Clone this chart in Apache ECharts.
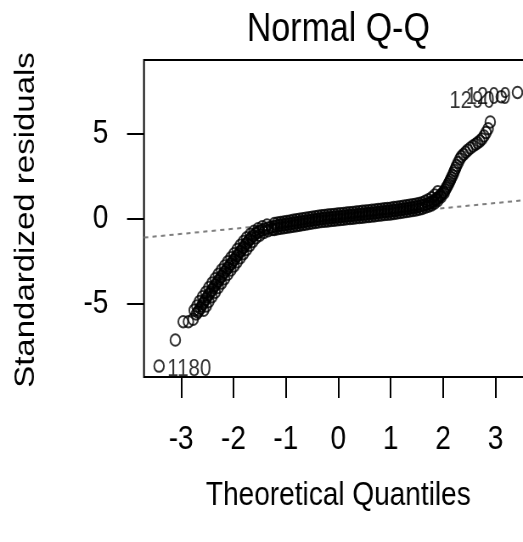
<!DOCTYPE html>
<html>
<head>
<meta charset="utf-8">
<script src="https://cdn.jsdelivr.net/npm/echarts@6/dist/echarts.min.js"></script>
<style>
  html, body { margin: 0; padding: 0; background: #fff; overflow: hidden; }
  /* the plot is laid out on a wider canvas and squeezed horizontally;
     the right side of the frame runs past the window edge */
  #chart { width: 640px; height: 542px; transform: scaleX(0.849); transform-origin: 0 0; }
</style>
</head>
<body>
<div id="chart"></div>
<script>
// Normal Q-Q plot of standardized residuals
const qx = [
  -3.42, -3.11, -2.96, -2.86, -2.77,
  -2.71, -2.68, -2.66, -2.63, -2.61, -2.58, -2.56, -2.53, -2.50, -2.47,
  -2.44, -2.41, -2.38, -2.35, -2.32, -2.29, -2.26, -2.23, -2.20, -2.17,
  -2.14, -2.11, -2.08, -2.05, -2.02, -1.99, -1.96, -1.93, -1.90, -1.87,
  -1.84, -1.81, -1.78, -1.75, -1.72, -1.69, -1.66, -1.62, -1.58, -1.54,
  -1.50, -1.45, -1.40, -1.34, -1.28, -1.22, -1.16, -1.10, -1.04, -0.98,
  -0.92, -0.86, -0.80, -0.74, -0.68, -0.62, -0.56, -0.50, -0.44, -0.38,
  -0.32, -0.26, -0.20, -0.14, -0.08, -0.02, 0.04, 0.10, 0.16, 0.22,
  0.28, 0.34, 0.40, 0.46, 0.52, 0.58, 0.64, 0.70, 0.76, 0.82,
  0.88, 0.94, 1.00, 1.06, 1.12, 1.18, 1.24, 1.30, 1.36, 1.42,
  1.48, 1.54, 1.60, 1.65, 1.70, 1.74, 1.78, 1.82, 1.86, 1.89,
  1.92, 1.95, 1.98, 2.01, 2.04, 2.06, 2.08, 2.10, 2.12, 2.14,
  2.16, 2.18, 2.20, 2.22, 2.24, 2.26, 2.29, 2.32, 2.35, 2.39,
  2.43, 2.47, 2.52, 2.57, 2.62, 2.66, 2.70, 2.74, 2.78, 2.82,
  2.86, 2.90, 3.11, 3.42
];
const residuals = [
  -8.68, -7.15, -6.07, -6.07, -5.93,
  -5.62, -5.50, -5.40, -5.28, -5.15, -5.00, -4.88, -4.75, -4.60, -4.47,
  -4.34, -4.21, -4.06, -3.92, -3.80, -3.67, -3.54, -3.41, -3.28, -3.15,
  -3.03, -2.91, -2.79, -2.67, -2.55, -2.43, -2.31, -2.19, -2.07, -1.94,
  -1.82, -1.70, -1.58, -1.46, -1.35, -1.24, -1.13, -1.01, -0.90, -0.82,
  -0.75, -0.68, -0.62, -0.56, -0.51, -0.47, -0.43, -0.40, -0.37, -0.34,
  -0.31, -0.28, -0.25, -0.22, -0.19, -0.16, -0.13, -0.10, -0.07, -0.04,
  -0.01, 0.01, 0.03, 0.05, 0.07, 0.09, 0.11, 0.13, 0.15, 0.17,
  0.19, 0.21, 0.23, 0.25, 0.27, 0.29, 0.31, 0.33, 0.36, 0.38,
  0.40, 0.42, 0.44, 0.47, 0.49, 0.52, 0.55, 0.58, 0.61, 0.64,
  0.67, 0.71, 0.76, 0.80, 0.85, 0.90, 0.96, 1.03, 1.11, 1.19,
  1.27, 1.36, 1.46, 1.57, 1.68, 1.80, 1.90, 2.02, 2.14, 2.27,
  2.40, 2.53, 2.67, 2.82, 2.97, 3.12, 3.30, 3.50, 3.64, 3.77,
  3.90, 4.02, 4.14, 4.26, 4.36, 4.45, 4.55, 4.68, 4.85, 5.05,
  5.28, 5.68, 7.16, 7.41
];

// further points of the dense band, left/upper and right/lower flank
const flankAX = [
  -2.75, -2.70, -2.65, -2.59, -2.53, -2.47, -2.41, -2.35, -2.29, -2.23,
  -2.17, -2.11, -2.05, -1.99, -1.93, -1.87, -1.81, -1.75, -1.68, -1.61,
  -1.53, -1.45, -1.36,
  -1.22, -1.16, -1.10, -1.04, -0.98, -0.92, -0.86, -0.80, -0.74, -0.68,
  -0.62, -0.56, -0.50, -0.44, -0.38, -0.32, -0.26, -0.20, -0.14, -0.08,
  -0.02, 0.04, 0.10, 0.16, 0.22, 0.28, 0.34, 0.40, 0.46, 0.52,
  0.58, 0.64, 0.70, 0.76, 0.82, 0.88, 0.94, 1.00, 1.06, 1.12,
  1.18, 1.24, 1.30, 1.36, 1.42, 1.48, 1.54, 1.60, 1.66, 1.72,
  1.78, 1.84, 1.90
];
const flankAY = [
  -5.40, -5.15, -4.88, -4.60, -4.34, -4.06, -3.80, -3.54, -3.28, -3.03,
  -2.79, -2.55, -2.31, -2.07, -1.82, -1.58, -1.35, -1.13, -0.93, -0.75,
  -0.60, -0.48, -0.38,
  -0.30, -0.26, -0.23, -0.20, -0.17, -0.14, -0.11, -0.08, -0.05, -0.02,
  0.01, 0.04, 0.07, 0.10, 0.13, 0.16, 0.18, 0.20, 0.22, 0.24,
  0.26, 0.28, 0.30, 0.32, 0.34, 0.36, 0.38, 0.40, 0.42, 0.44,
  0.46, 0.48, 0.50, 0.53, 0.55, 0.57, 0.59, 0.61, 0.64, 0.66,
  0.69, 0.72, 0.75, 0.78, 0.81, 0.84, 0.88, 0.93, 1.02, 1.10,
  1.22, 1.38, 1.58
];
const flankBX = [
  -2.57, -2.52, -2.47, -2.41, -2.35, -2.29, -2.23, -2.17, -2.11, -2.05,
  -1.99, -1.93, -1.87, -1.81, -1.75, -1.69, -1.63, -1.57, -1.50, -1.42,
  -1.34, -1.26,
  -1.22, -1.16, -1.10, -1.04, -0.98, -0.92, -0.86, -0.80, -0.74, -0.68,
  -0.62, -0.56, -0.50, -0.44, -0.38, -0.32, -0.26, -0.20, -0.14, -0.08,
  -0.02, 0.04, 0.10, 0.16, 0.22, 0.28, 0.34, 0.40, 0.46, 0.52,
  0.58, 0.64, 0.70, 0.76, 0.82, 0.88, 0.94, 1.00, 1.06, 1.12,
  1.18, 1.24, 1.30, 1.36, 1.42, 1.48, 1.54, 1.60, 1.66, 1.72,
  1.78, 1.84, 1.90, 1.96, 2.02
];
const flankBY = [
  -5.40, -5.15, -4.88, -4.60, -4.34, -4.06, -3.80, -3.54, -3.28, -3.03,
  -2.79, -2.55, -2.31, -2.07, -1.82, -1.58, -1.35, -1.13, -0.98, -0.82,
  -0.72, -0.65,
  -0.64, -0.60, -0.57, -0.54, -0.51, -0.48, -0.45, -0.42, -0.39, -0.36,
  -0.33, -0.30, -0.27, -0.24, -0.21, -0.18, -0.16, -0.14, -0.12, -0.10,
  -0.08, -0.06, -0.04, -0.02, 0.00, 0.02, 0.04, 0.06, 0.08, 0.10,
  0.12, 0.14, 0.16, 0.19, 0.21, 0.23, 0.25, 0.27, 0.30, 0.32,
  0.35, 0.38, 0.41, 0.44, 0.47, 0.50, 0.54, 0.59, 0.66, 0.72,
  0.80, 0.92, 1.06, 1.26, 1.50
];

// observation ids of the most extreme residuals, keyed by point index
const idIndex = [0, 137, 138];
const idText = ['1180', '1290', '1209'];

// reference line through the quartiles
const refLineX = [-3.708, 3.708];
const refLineY = [-1.123, 1.123];

const xTicks = [-3, -2, -1, 0, 1, 2, 3];
const yTicks = [-5, 0, 5];

const FONT = "'Liberation Sans', Arial, Helvetica, sans-serif";

const points = qx.map((x, i) => {
  const item = { value: [x, residuals[i]] };
  const k = idIndex.indexOf(i);
  if (k >= 0) {
    const onLeft = x < 0;
    item.label = {
      show: true,
      formatter: idText[k],
      position: onLeft ? 'right' : 'left',
      distance: onLeft ? 3 : 1,
      offset: [0, onLeft ? 3 : 5],
      fontFamily: FONT,
      fontSize: 24,
      color: '#000'
    };
  }
  return item;
});
flankAX.forEach((x, i) => points.push({ value: [x, flankAY[i]] }));
flankBX.forEach((x, i) => points.push({ value: [x, flankBY[i]] }));

const chart = echarts.init(document.getElementById('chart'), null, { renderer: 'canvas' });
chart.setOption({
  backgroundColor: '#fff',
  animation: false,
  grid: {
    left: 169.6, top: 60, right: 12.7, bottom: 165,
    show: true, borderColor: '#000', borderWidth: 2, backgroundColor: 'transparent'
  },
  xAxis: {
    type: 'value', min: -3.708, max: 3.708,
    axisLine: { show: false, onZero: false },
    splitLine: { show: false },
    axisTick: { show: true, length: 21, customValues: xTicks, lineStyle: { color: '#000', width: 2 } },
    axisLabel: { customValues: xTicks, fontFamily: FONT, fontSize: 33, color: '#000', margin: 46 }
  },
  yAxis: {
    type: 'value', min: -9.32, max: 9.32,
    axisLine: { show: false, onZero: false },
    splitLine: { show: false },
    axisTick: { show: true, length: 20, customValues: yTicks, lineStyle: { color: '#000', width: 2 } },
    axisLabel: { customValues: yTicks, fontFamily: FONT, fontSize: 33, color: '#000', margin: 42 }
  },
  graphic: [
    { type: 'text', x: 398.5, y: 30, style: { text: 'Normal Q-Q', fontFamily: FONT, fontSize: 40, fill: '#000', align: 'center', verticalAlign: 'middle' } },
    { type: 'text', x: 398.5, y: 496, style: { text: 'Theoretical Quantiles', fontFamily: FONT, fontSize: 33, fill: '#000', align: 'center', verticalAlign: 'middle' } },
    { type: 'text', x: 30.6, y: 220, rotation: Math.PI / 2, style: { text: 'Standardized residuals', fontFamily: FONT, fontSize: 33, fill: '#000', align: 'center', verticalAlign: 'middle' } }
  ],
  series: [
    {
      type: 'line',
      data: refLineX.map((x, i) => [x, refLineY[i]]),
      symbol: 'none',
      silent: true,
      lineStyle: { color: '#7f7f7f', width: 2, type: [5, 5] },
      z: 1
    },
    {
      type: 'scatter',
      data: points,
      symbol: 'circle',
      symbolSize: 11.5,
      itemStyle: { color: 'transparent', borderColor: '#000', borderWidth: 2 },
      z: 2
    }
  ]
});
</script>
</body>
</html>
